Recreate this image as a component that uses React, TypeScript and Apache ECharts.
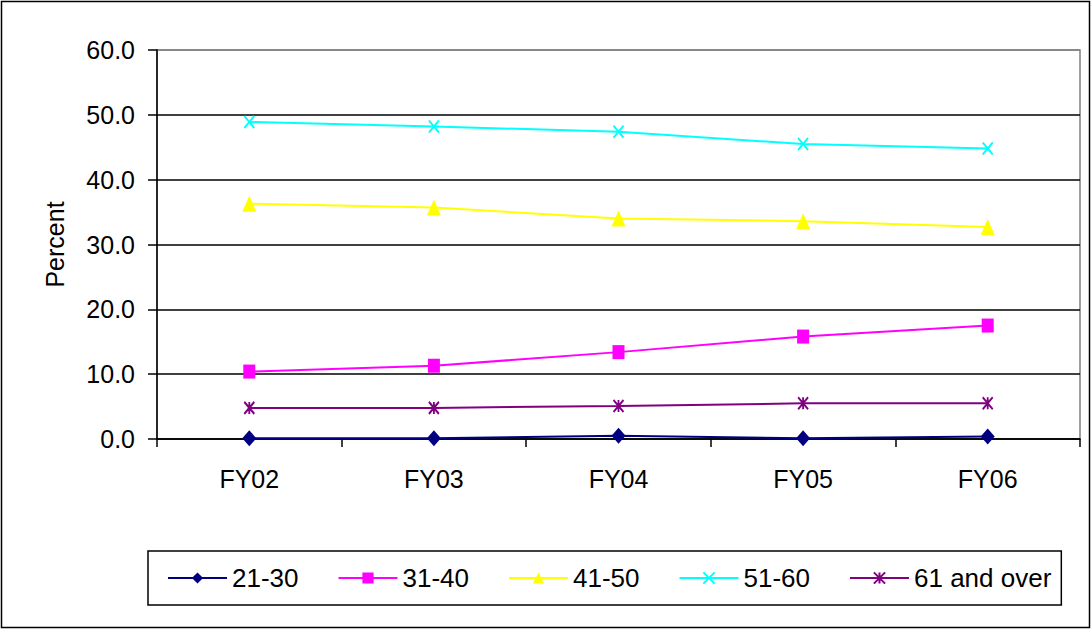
import React, { useEffect, useRef } from "react";
import * as echarts from "echarts";

const categories = ["FY02", "FY03", "FY04", "FY05", "FY06"];
const age21to30 = [0.1, 0.1, 0.5, 0.1, 0.4];
const age31to40 = [10.4, 11.3, 13.4, 15.8, 17.5];
const age41to50 = [36.3, 35.7, 34.0, 33.6, 32.7];
const age51to60 = [48.9, 48.2, 47.4, 45.5, 44.8];
const age61plus = [4.8, 4.8, 5.1, 5.5, 5.5];
const yTicks = { min: 0, max: 60, interval: 10 };

const FONT = "'Liberation Sans', Arial, sans-serif";

const xPath = "path://M0,0L10,12M10,0L0,12";
const starPath = "path://M0,0L10,12M10,0L0,12M5,0L5,12";

export default function App() {
  const ref = useRef<HTMLDivElement>(null);
  useEffect(() => {
    const chart = echarts.init(ref.current!, null, { renderer: "svg" });
    const mk = (name: string, data: number[], color: string, symbol: string, size: any, stroke = false) => ({
      name,
      type: "line",
      data,
      symbol,
      symbolSize: size,
      showSymbol: true,
      lineStyle: { color, width: 2 },
      itemStyle: stroke
        ? { color: "transparent", borderColor: color, borderWidth: 2 }
        : { color, borderWidth: 0 },
      emphasis: { disabled: true },
    });
    chart.setOption({
      animation: false,
      backgroundColor: "#fff",
      textStyle: { fontFamily: FONT },
      graphic: [
        {
          type: "rect",
          shape: { x: 1.5, y: 1.5, width: 1088, height: 626 },
          style: { fill: "none", stroke: "#000", lineWidth: 1.5 },
          silent: true,
        },
      ],
      grid: {
        left: 157,
        top: 50,
        width: 923,
        height: 389,
        show: true,
        borderColor: "#808080",
        borderWidth: 1.5,
        backgroundColor: "#fff",
      },
      legend: {
        left: 148,
        top: 551,
        orient: "horizontal",
        padding: [14, 10, 14, 19],
        borderColor: "#000",
        borderWidth: 1.5,
        itemWidth: 59,
        itemHeight: 14,
        itemGap: 39,
        textStyle: { fontFamily: FONT, fontSize: 26, color: "#000" },
        data: ["21-30", "31-40", "41-50", "51-60", "61 and over"],
      },
      xAxis: {
        type: "category",
        data: categories,
        boundaryGap: true,
        axisLine: { lineStyle: { color: "#000", width: 1.5 } },
        axisTick: { show: true, length: 8, lineStyle: { color: "#000", width: 1.5 } },
        axisLabel: { fontSize: 25, color: "#000", margin: 27, fontFamily: FONT },
        splitLine: { show: false },
      },
      yAxis: {
        type: "value",
        min: yTicks.min,
        max: yTicks.max,
        interval: yTicks.interval,
        name: "Percent",
        nameLocation: "middle",
        nameRotate: 90,
        nameGap: 90,
        nameTextStyle: { fontSize: 25, color: "#000", fontFamily: FONT },
        axisLine: { show: true, lineStyle: { color: "#000", width: 1.5 } },
        axisTick: { show: true, length: 9, lineStyle: { color: "#000", width: 1.5 } },
        axisLabel: {
          fontSize: 25,
          color: "#000",
          margin: 22,
          fontFamily: FONT,
          formatter: (v: number) => v.toFixed(1),
        },
        splitLine: {
          show: true,
          lineStyle: {
            color: ["#000", "#000", "#000", "#000", "#000", "#000", "#808080"],
            width: 1.5,
          },
        },
      },
      series: [
        mk("21-30", age21to30, "#000080", "diamond", [14, 16]),
        mk("31-40", age31to40, "#FF00FF", "rect", [12, 14]),
        mk("41-50", age41to50, "#FFFF00", "triangle", [14, 16]),
        mk("51-60", age51to60, "#00FFFF", xPath, [10, 12], true),
        mk("61 and over", age61plus, "#800080", starPath, [10, 12], true),
      ],
    });
    return () => chart.dispose();
  }, []);
  return (
    <div
      ref={ref}
      style={{ position: "fixed", left: 0, top: 0, width: 1092, height: 630, background: "#fff" }}
    />
  );
}
